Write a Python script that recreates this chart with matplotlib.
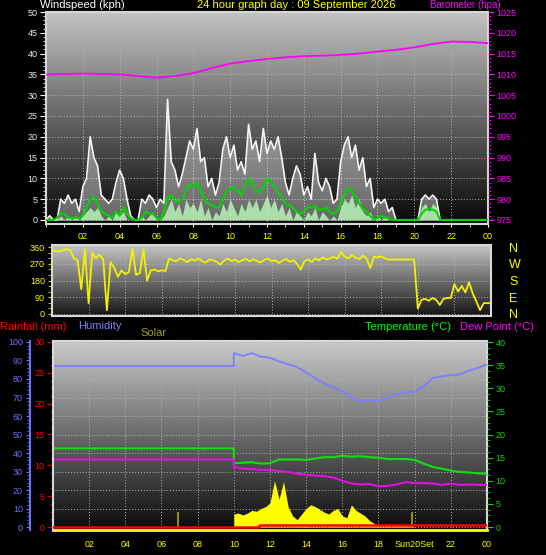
import matplotlib
matplotlib.use("Agg")
import matplotlib.pyplot as plt
import numpy as np
from matplotlib.colors import LinearSegmentedColormap
from matplotlib.ticker import MultipleLocator, AutoMinorLocator

plt.rcParams['font.family'] = ['Liberation Sans', 'DejaVu Sans']

# wind, 0.2 h steps from 00:00 to 24:00 (kph)
wind_gust = [0, 1, 0, 0, 5, 4, 6, 4, 5, 2,
             8, 10, 20, 15, 13, 6, 5, 4, 5, 9,
             12, 10, 5, 1, 0, 0, 5, 4, 6, 5,
             3, 5, 4, 29, 14, 12, 8, 11, 15, 19,
             17, 22, 14, 15, 8, 10, 6, 9, 17, 20,
             15, 18, 12, 14, 11, 23, 17, 19, 14, 22,
             16, 19, 17, 20, 15, 9, 6, 10, 13, 11,
             6, 8, 5, 16, 9, 7, 10, 8, 4, 5,
             14, 18, 20, 15, 18, 12, 15, 8, 10, 3,
             5, 4, 5, 2, 3, 0, 0, 0, 0, 0,
             0, 0, 5, 6, 5, 6, 5, 0, 0, 0,
             0, 0, 0, 0, 0, 0, 0, 0, 0, 0,
             0]
wind_avg = [0, 0, 0, 0.5, 1.5, 1.5, 0.5, 0.5, 0.5, 0.5,
            1, 3, 5, 5.5, 4, 2, 1.5, 1, 0.5, 2,
            1, 3, 1.5, 0.5, 0, 0, 0.5, 2, 1.5, 1.5,
            0.5, 0, 2, 5.5, 6, 4.5, 4.5, 5, 7, 8.5,
            8, 9, 7, 5, 4, 3.5, 3, 3, 5, 7,
            7.5, 8, 7, 6, 8, 10, 9, 7, 6.5, 8,
            10, 9, 8, 6.5, 5.5, 4, 3.5, 3, 2, 1.5,
            2, 3, 3, 3.5, 2.5, 2.5, 3, 2, 1.5, 2,
            4, 6, 7.5, 7, 5.5, 4, 2.5, 2, 1, 0,
            0.5, 1, 0.5, 0.5, 0, 0, 0, 0, 0, 0,
            0, 0, 1.5, 2.5, 2.5, 2.5, 2, 0, 0, 0,
            0, 0, 0, 0, 0, 0, 0, 0, 0, 0,
            0]
wind_now = [0, 0, 0, 0, 1, 0, 1, 0, 1, 0,
            1, 2, 3, 2, 3, 1, 0, 1, 0, 2,
            1, 2, 0, 0, 0, 0, 1, 0, 1, 2,
            0, 0, 1, 3, 5, 2, 4, 1, 5, 3,
            4, 2, 5, 1, 3, 0, 2, 1, 4, 2,
            5, 3, 1, 4, 2, 5, 3, 5, 2, 4,
            6, 3, 5, 2, 4, 1, 3, 0, 2, 1,
            0, 2, 1, 3, 0, 2, 1, 0, 1, 0,
            3, 5, 4, 6, 3, 5, 2, 1, 2, 0,
            1, 0, 1, 0, 0, 0, 0, 0, 0, 0,
            0, 0, 3, 4, 2, 4, 3, 0, 0, 0,
            0, 0, 0, 0, 0, 0, 0, 0, 0, 0,
            0]
wind_dir = [340, 342, 338, 345, 350, 345, 300, 290, 133, 350,
            57, 330, 300, 320, 295, 19, 280, 250, 200, 235,
            215, 225, 350, 210, 220, 350, 180, 235, 240, 230,
            235, 232, 300, 290, 285, 300, 292, 280, 296, 288,
            300, 285, 278, 295, 290, 282, 266, 288, 300, 286,
            293, 280, 290, 298, 284, 295, 287, 278, 292, 300,
            285, 290, 276, 288, 297, 282, 290, 270, 240, 285,
            295, 280, 300, 290, 305, 295, 300, 310, 298, 335,
            310, 300, 318, 305, 296, 315, 300, 248, 310, 305,
            312, 300, 294, 294, 294, 294, 294, 294, 294, 294,
            28, 75, 80, 70, 85, 75, 47, 80, 85, 85,
            160, 120, 150, 115, 170, 110, 66, 19, 57, 57,
            57]
wind_hours = np.linspace(0, 24, len(wind_gust))

# barometer (hPa)
baro_hours = [0, 2, 4, 5, 6, 7, 8, 9, 10, 11, 12, 13, 14, 15, 16, 17, 18, 19, 20, 21, 22, 23, 24]
baro = [1010.0, 1010.2, 1010.0, 1009.6, 1009.2, 1009.6, 1010.3, 1011.5, 1012.6, 1013.2, 1013.7,
        1014.1, 1014.4, 1014.5, 1014.7, 1015.0, 1015.5, 1015.9, 1016.5, 1017.3, 1017.9, 1017.8, 1017.5]

# temperature / humidity / dew point (no data logged before 10:00)
thermo_hours = [0, 10] + list(np.arange(10, 24.01, 0.5))
humidity = [87, 87,
            94, 92.5, 94, 92, 91.5, 89.5, 88, 86.5, 83.5, 80.5, 77.5, 75.5, 73.5, 70,
            68, 68.5, 68, 70, 71.5, 73, 73, 76, 80.5, 81.5, 82, 82.5, 84.5, 86, 88]
temperature = [17.0, 17.0,
               13.8, 13.9, 14.0, 13.7, 13.8, 14.6, 14.6, 14.6, 14.5, 14.8, 15.1, 15.1, 15.4, 15.2,
               15.3, 15.1, 15.0, 14.7, 14.7, 14.7, 14.5, 13.7, 13.0, 12.6, 12.2, 11.9, 11.8, 11.6, 11.5]
dew_point = [14.6, 14.6,
             13.0, 12.6, 12.5, 12.4, 12.3, 12.1, 11.9, 11.5, 11.3, 11.1, 11.0, 10.7, 10.0, 9.4,
             9.2, 9.3, 8.8, 8.9, 9.2, 9.7, 9.5, 9.5, 9.4, 9.1, 9.4, 9.1, 9.2, 9.1, 9.1]

# solar radiation (W/m2), 0.25 h steps 10:00-20:00
solar_hours = np.arange(10, 20.01, 0.25)
solar = [70, 75, 65, 75, 90, 85, 100, 110, 130, 250, 150, 245, 110, 60, 40, 70,
         100, 120, 110, 95, 80, 70, 90, 100, 60, 50, 120, 90, 75, 60, 35, 20,
         10, 12, 10, 12, 10, 10, 12, 8, 0]
sun_events = [6.9, 19.85]   # sunrise / sunset markers

# rainfall (mm)
rain_hours = [0, 11.4, 24]
rain = [0, 0.4, 0.4]

hour_ticks = list(range(2, 25, 2))
hour_labels = ['02', '04', '06', '08', '10', '12', '14', '16', '18', '20', '22', '00']
bottom_labels = ['02', '04', '06', '08', '10', '12', '14', '16', '18', 'Sun20Set', '22', '00']

W, H = 546, 555
fig = plt.figure(figsize=(W / 100, H / 100), dpi=100, facecolor='black')


def rect(x0, y0, x1, y1):
    return [x0 / W, 1 - y1 / H, (x1 - x0) / W, (y1 - y0) / H]


def shade(ax, top, bottom):
    cmap = LinearSegmentedColormap.from_list('shade', [bottom, top])
    ax.imshow(np.linspace(0, 1, 256).reshape(-1, 1), extent=[0, 1, 0, 1],
              transform=ax.transAxes, origin='lower', aspect='auto', cmap=cmap, zorder=0)
    ax.set_axisbelow(True)
    for s in ax.spines.values():
        s.set_color('#d8d8d8')
        s.set_linewidth(1.5)


grid_kw = dict(color='#b4b4b4', linestyle=(0, (1, 2)), linewidth=0.7)
fs = 6.5

# ---- top panel: wind speed + barometer
ax1 = fig.add_axes(rect(46, 12, 488, 223.5))
shade(ax1, '#c4c4c4', '#080808')
ax1.fill_between(wind_hours, wind_gust, color='white', alpha=0.38, lw=0, zorder=2)
ax1.plot(wind_hours, wind_gust, color='#f4f4f4', lw=1.2, zorder=3)
ax1.fill_between(wind_hours, wind_now, color='#b8f2b8', alpha=0.85, lw=0, zorder=4)
ax1.plot(wind_hours, wind_avg, color='#00d800', lw=1.5, zorder=5)
ax1.set_xlim(0, 24)
ax1.set_ylim(-0.85, 50)
ax1.set_yticks(range(0, 51, 5))
ax1.yaxis.set_minor_locator(AutoMinorLocator(5))
ax1.set_xticks(hour_ticks)
ax1.set_xticklabels(hour_labels)
ax1.xaxis.set_minor_locator(MultipleLocator(1))
ax1.tick_params(axis='y', which='both', colors='white', labelcolor='#e4ecff', labelsize=fs, length=4, pad=2)
ax1.tick_params(axis='y', which='minor', length=2)
ax1.tick_params(axis='x', which='both', colors='white', labelcolor='yellow', labelsize=fs, length=2, pad=4)
ax1.grid(True, **grid_kw)

ax1b = ax1.twinx()
ax1b.plot(baro_hours, baro, color='#ff00ff', lw=1.3, zorder=6)
ax1b.set_ylim(974.15, 1025)
ax1b.set_yticks(range(975, 1026, 5))
ax1b.yaxis.set_minor_locator(AutoMinorLocator(5))
ax1b.tick_params(axis='y', which='both', colors='#ff00ff', labelsize=fs, length=4, pad=2)
ax1b.tick_params(axis='y', which='minor', length=2)
for s in ax1b.spines.values():
    s.set_visible(False)

# ---- middle panel: wind direction
ax2 = fig.add_axes(rect(52, 245, 491, 316))
shade(ax2, '#c8c8c8', '#141414')
ax2.plot(wind_hours, wind_dir, color='#f2f200', lw=1.3, zorder=3)
ax2.set_xlim(0, 24)
ax2.set_ylim(-13, 373)
ax2.set_yticks([0, 90, 180, 270, 360])
ax2.yaxis.set_minor_locator(MultipleLocator(30))
ax2.set_xticks(hour_ticks)
ax2.tick_params(axis='x', length=0, labelbottom=False)
ax2.tick_params(axis='y', which='both', colors='#d0d000', labelcolor='yellow', labelsize=fs, length=3, pad=2)
ax2.grid(True, **grid_kw)
ax2r = ax2.twinx()
ax2r.set_ylim(-13, 373)
ax2r.set_yticks([0, 90, 180, 270, 360])
ax2r.set_yticklabels(['N', 'E', 'S', 'W', 'N'])
ax2r.tick_params(axis='y', length=0, pad=13, labelcolor='yellow', labelsize=9)
for s in ax2r.spines.values():
    s.set_visible(False)

# ---- bottom panel: humidity, solar, temperature, dew point, rain
ax3 = fig.add_axes(rect(53, 341, 487, 530))
shade(ax3, '#cacaca', '#0a0a0a')
ax3.spines['bottom'].set_color('#ffff00')
ax3.spines['bottom'].set_linewidth(2)
ax3.plot(thermo_hours, humidity, color='#8080ff', lw=1.4, zorder=3)
ax3.set_xlim(0, 24)
ax3.set_ylim(-1.62, 100.54)
ax3.set_yticks(range(0, 101, 10))
ax3.yaxis.set_minor_locator(AutoMinorLocator(5))
ax3.spines['left'].set_position(('outward', 16.6))
ax3.spines['left'].set_color('#7070ff')
ax3.set_xticks(hour_ticks)
ax3.set_xticklabels(bottom_labels)
ax3.tick_params(axis='y', which='both', colors='#7070ff', labelsize=fs, length=3, pad=2)
ax3.tick_params(axis='y', which='minor', length=2)
ax3.tick_params(axis='x', which='both', length=0, labelcolor='yellow', labelsize=fs, pad=7)
ax3.grid(True, **grid_kw)

ax3s = ax3.twinx()
ax3s.fill_between(solar_hours, solar, color='#ffff00', lw=0, zorder=2)
ax3s.vlines(sun_events, 0, 80, color='#a8a800', lw=1.2, zorder=2)
ax3s.set_ylim(-16.2, 1005.4)
ax3s.axis('off')

ax3t = ax3.twinx()
ax3t.plot(thermo_hours, temperature, color='#10e010', lw=1.5, zorder=3)
ax3t.plot(thermo_hours, dew_point, color='#e010e0', lw=1.5, zorder=3)
ax3t.set_ylim(-0.648, 40.22)
ax3t.set_yticks(range(0, 41, 5))
ax3t.yaxis.set_minor_locator(AutoMinorLocator(4))
ax3t.tick_params(axis='y', which='both', colors='#10d010', labelsize=fs, length=4, pad=2)
ax3t.tick_params(axis='y', which='minor', length=2)
for s in ax3t.spines.values():
    s.set_visible(False)

ax3r = ax3.twinx()
ax3r.plot(rain_hours, rain, drawstyle='steps-post', color='#ff0000', lw=1.8, zorder=4)
ax3r.set_ylim(-0.486, 30.16)
ax3r.yaxis.tick_left()
ax3r.set_yticks(range(0, 31, 5))
ax3r.yaxis.set_minor_locator(AutoMinorLocator(4))
ax3r.tick_params(axis='y', which='both', colors='#dd0000', labelcolor='#ff0000', labelsize=fs, length=4, pad=2)
ax3r.tick_params(axis='y', which='minor', length=2)
for name, s in ax3r.spines.items():
    s.set_visible(name == 'left')
ax3r.spines['left'].set_color('#d8d8d8')
ax3r.spines['left'].set_linewidth(1.5)


def label(x, y, s, color, ha='left', size=8):
    fig.text(x / W, 1 - y / H, s, color=color, fontsize=size, ha=ha, va='center')


label(40, 5, 'Windspeed (kph)', 'white')
label(296, 5, '24 hour graph day : 09 September 2026', 'yellow', ha='center')
label(501, 5, 'Barometer (hpa)', '#ff00ff', ha='right', size=7)
label(0, 327, 'Rainfall (mm)', '#ff0000')
label(78, 326, 'Humidity', '#8080ff')
label(140, 333, 'Solar', '#a0a020')
label(365, 327, 'Temperature (°C)', '#00ff00')
label(460, 327, 'Dew Point (°C)', '#ff00ff')

fig.savefig('out.png', dpi=100, facecolor='black')
